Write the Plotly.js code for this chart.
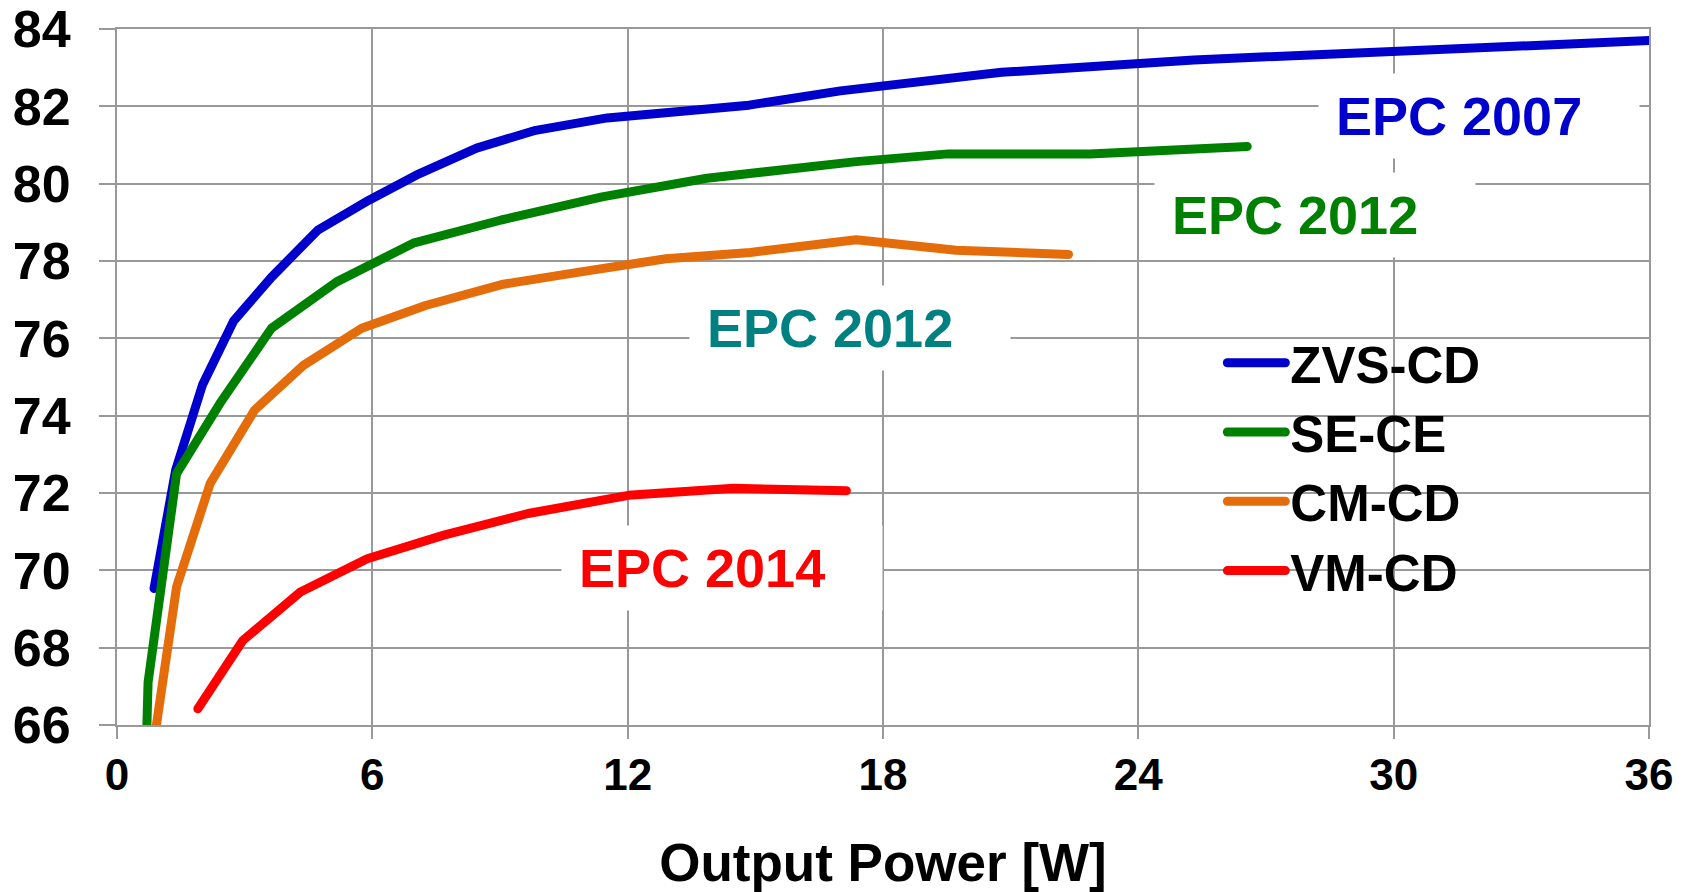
<!DOCTYPE html>
<html>
<head>
<meta charset="utf-8">
<script src="https://cdn.plot.ly/plotly-3.0.1.min.js"></script>
<style>
  html, body { margin: 0; padding: 0; background: #ffffff; }
  #chart { width: 1684px; height: 892px; }
  .scatterlayer path.js-line, .legend path.js-line { stroke-linecap: round; stroke-linejoin: round; }
</style>
</head>
<body>
<div id="chart"></div>
<script>
// Output power [W] vs efficiency [%]
const zvsX = [0.87, 1.38, 2.01, 2.74, 3.63, 4.72, 5.93, 7.03, 8.45, 9.84, 11.52, 13.1, 14.85, 17.0, 18.5, 20.79, 25.3, 30.1, 36.0];
const zvsY = [69.53, 72.6, 74.8, 76.45, 77.58, 78.8, 79.58, 80.22, 80.92, 81.38, 81.7, 81.85, 82.03, 82.4, 82.58, 82.88, 83.2, 83.45, 83.7];

const seceX = [0.69, 0.73, 1.40, 2.42, 3.63, 5.16, 6.96, 9.03, 11.4, 13.86, 17.37, 19.53, 22.86, 26.56];
const seceY = [65.5, 67.1, 72.5, 74.32, 76.26, 77.46, 78.46, 79.06, 79.66, 80.14, 80.57, 80.77, 80.77, 80.96];

const cmcdX = [0.86, 1.40, 2.19, 3.23, 4.38, 5.75, 7.25, 9.08, 10.9, 12.9, 14.88, 17.37, 19.72, 22.36];
const cmcdY = [65.5, 69.57, 72.25, 74.14, 75.3, 76.26, 76.85, 77.4, 77.72, 78.06, 78.22, 78.55, 78.28, 78.17];

const vmcdX = [1.90, 2.96, 4.31, 5.88, 7.68, 9.66, 12.02, 14.49, 17.14];
const vmcdY = [66.42, 68.19, 69.44, 70.30, 70.91, 71.47, 71.94, 72.12, 72.06];

const seriesNames = ['ZVS-CD', 'SE-CE', 'CM-CD', 'VM-CD'];
const seriesColors = ['#0000CC', '#008000', '#E46C0A', '#FF0000'];

const xTicks = [0, 6, 12, 18, 24, 30, 36];
const yTicks = [66, 68, 70, 72, 74, 76, 78, 80, 82, 84];

const labelTexts = ['EPC 2007', 'EPC 2012', 'EPC 2012', 'EPC 2014'];
const labelColors = ['#0000CC', '#008000', '#008080', '#FF0000'];
const labelX = [32.01, 28.15, 17.22, 14.22];
const labelY = [81.75, 79.19, 76.26, 70.05];

const FONT = 'Liberation Sans, Arial, Helvetica, sans-serif';
const GRID = '#999999';

const xs = [zvsX, seceX, cmcdX, vmcdX];
const ys = [zvsY, seceY, cmcdY, vmcdY];
const traces = seriesNames.map((n, i) => ({
  type: 'scatter', mode: 'lines', name: n,
  x: xs[i], y: ys[i],
  line: { color: seriesColors[i], width: 9 },
  hoverinfo: 'skip'
}));

const annotations = labelTexts.map((t, i) => ({
  x: labelX[i], y: labelY[i], xref: 'x', yref: 'y',
  text: t, showarrow: false,
  font: { family: FONT, size: 54, weight: 'bold', color: labelColors[i] },
  bgcolor: '#ffffff', borderpad: 17, width: 286, height: 50,
  align: 'left', valign: 'middle',
  xanchor: 'center', yanchor: 'middle'
}));

// white panel behind the legend (hides the gridlines, as in the original)
const shapes = [{
  type: 'rect', xref: 'paper', yref: 'paper',
  x0: 0.6988, x1: 0.9205, y0: 0.1745, y1: 0.5635,
  fillcolor: '#ffffff', line: { width: 0 }, layer: 'between'
}];

const layout = {
  width: 1684, height: 892, autosize: false,
  margin: { l: 117, r: 35, t: 29, b: 167, pad: 0 },
  paper_bgcolor: '#ffffff', plot_bgcolor: '#ffffff',
  font: { family: FONT, color: '#000000' },
  showlegend: true,
  legend: {
    x: 0.7215, y: 0.5775, xanchor: 'left', yanchor: 'top',
    bgcolor: 'rgba(0,0,0,0)', borderwidth: 0,
    font: { family: FONT, size: 51, weight: 'bold', color: '#000000' },
    itemwidth: 58, tracegroupgap: 0
  },
  xaxis: {
    range: [0, 36], tickmode: 'array', tickvals: xTicks, ticktext: xTicks.map(String),
    ticks: 'outside', ticklen: 12, tickwidth: 2, tickcolor: GRID,
    showgrid: true, gridcolor: GRID, gridwidth: 2,
    showline: true, linecolor: GRID, linewidth: 2, mirror: true,
    zeroline: false, ticklabelstandoff: -2,
    tickfont: { family: FONT, size: 44, weight: 'bold', color: '#000000' },
    title: { text: 'Output Power [W]', standoff: 46,
      font: { family: FONT, size: 53, weight: 'bold', color: '#000000' } }
  },
  yaxis: {
    range: [66, 84], tickmode: 'array', tickvals: yTicks, ticktext: yTicks.map(String),
    ticks: 'outside', ticklen: 16, tickwidth: 2, tickcolor: GRID,
    showgrid: true, gridcolor: GRID, gridwidth: 2,
    showline: true, linecolor: GRID, linewidth: 2, mirror: true,
    zeroline: false, ticklabelstandoff: 18,
    tickfont: { family: FONT, size: 52, weight: 'bold', color: '#000000' }
  },
  shapes: shapes,
  annotations: annotations
};

Plotly.newPlot('chart', traces, layout, { staticPlot: true, displayModeBar: false });
</script>
</body>
</html>
